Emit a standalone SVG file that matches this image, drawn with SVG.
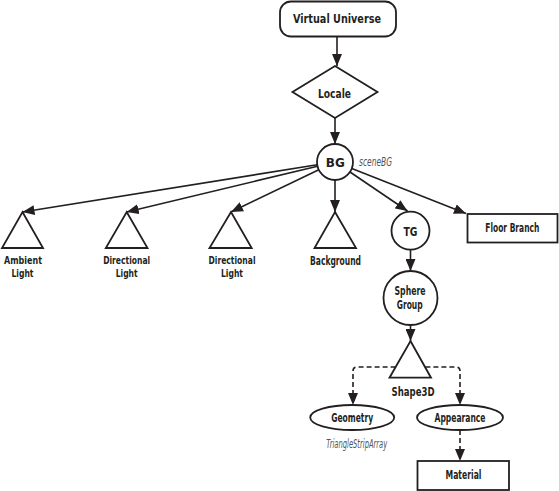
<svg xmlns="http://www.w3.org/2000/svg" width="559" height="491" viewBox="0 0 559 491">
<defs>
<marker id="ah" markerUnits="userSpaceOnUse" markerWidth="12" markerHeight="10" viewBox="0 0 12 10" refX="12" refY="5" orient="auto">
<path d="M0,0 L12,5 L0,10 Z" fill="#231f20"/>
</marker>
</defs>
<style>
.n{fill:#fff;stroke:#231f20;stroke-width:1.8}
.t{font-family:"DejaVu Sans Condensed","Liberation Sans",sans-serif;font-weight:bold;fill:#231f20;text-anchor:middle;font-size:11.5px}
.s{font-size:10.8px}
.i{font-family:"DejaVu Sans Condensed","Liberation Sans",sans-serif;font-style:italic;fill:#555;font-size:12px}
.c{fill:none;stroke:#231f20;stroke-width:1.6;marker-end:url(#ah)}
.d{stroke-dasharray:5 3}
</style>
<rect width="559" height="491" fill="#fff"/>
<g id="connectors">
<line class="c" x1="337" y1="37" x2="337" y2="66"/>
<line class="c" x1="335" y1="118" x2="335" y2="144"/>
<line class="c" x1="317.2" y1="164.8" x2="22.5" y2="212"/>
<line class="c" x1="317.5" y1="166.2" x2="126.7" y2="212"/>
<line class="c" x1="318.8" y1="169.8" x2="231" y2="212"/>
<line class="c" x1="335" y1="180" x2="335" y2="212"/>
<line class="c" x1="350" y1="172" x2="407.5" y2="211"/>
<line class="c" x1="351.8" y1="168.5" x2="466" y2="213.5"/>
<line class="c" x1="410.5" y1="250" x2="410.5" y2="271"/>
<line class="c" x1="410.5" y1="325" x2="410.5" y2="341"/>
<path class="c d" d="M395.6,367 H357 Q353,367 353,371 V405"/>
<path class="c d" d="M425.4,367 H456 Q460,367 460,371 V405"/>
<line class="c d" x1="460" y1="430" x2="460" y2="461"/>
</g>
<g id="virtual-universe">
<rect class="n" x="280" y="1.5" width="116" height="35" rx="11"/>
<text class="t" x="337" y="23" font-size="14" textLength="88" lengthAdjust="spacingAndGlyphs">Virtual Universe</text>
</g>
<g id="locale">
<polygon class="n" points="335,66 377.5,92 335,118 292.5,92"/>
<text class="t" x="334.5" y="97.5" font-size="14.5" textLength="33" lengthAdjust="spacingAndGlyphs">Locale</text>
</g>
<g id="bg">
<circle class="n" cx="335" cy="162" r="18"/>
<text class="t" x="335.3" y="166.5" font-size="14.5" textLength="19" lengthAdjust="spacingAndGlyphs">BG</text>
<text class="i" x="359" y="165.5" textLength="33" lengthAdjust="spacingAndGlyphs">sceneBG</text>
</g>
<g id="ambient-light">
<polygon class="n" points="22.5,212 43,248 2,248"/>
<text class="t s" x="23" y="264.3" textLength="38" lengthAdjust="spacingAndGlyphs">Ambient</text>
<text class="t s" x="22.5" y="277" textLength="22" lengthAdjust="spacingAndGlyphs">Light</text>
</g>
<g id="directional-light-1">
<polygon class="n" points="126.7,212 147.5,248 105.8,248"/>
<text class="t s" x="126.7" y="264.3" textLength="47" lengthAdjust="spacingAndGlyphs">Directional</text>
<text class="t s" x="126.7" y="277" textLength="22" lengthAdjust="spacingAndGlyphs">Light</text>
</g>
<g id="directional-light-2">
<polygon class="n" points="231,212 251.7,248 209.5,248"/>
<text class="t s" x="232" y="264.3" textLength="47" lengthAdjust="spacingAndGlyphs">Directional</text>
<text class="t s" x="232" y="277" textLength="22" lengthAdjust="spacingAndGlyphs">Light</text>
</g>
<g id="background">
<polygon class="n" points="335,212 356,248 314.5,248"/>
<text class="t" x="335.5" y="265" textLength="51" lengthAdjust="spacingAndGlyphs">Background</text>
</g>
<g id="tg">
<circle class="n" cx="410.5" cy="230.7" r="19"/>
<text class="t" x="410.5" y="236.3" font-size="14" textLength="14" lengthAdjust="spacingAndGlyphs">TG</text>
</g>
<g id="floor-branch">
<rect class="n" x="467.5" y="214" width="90" height="28.5"/>
<text class="t" x="512.3" y="232.3" textLength="54" lengthAdjust="spacingAndGlyphs">Floor Branch</text>
</g>
<g id="sphere-group">
<circle class="n" cx="410.5" cy="298" r="27"/>
<text class="t" x="410" y="295" textLength="31" lengthAdjust="spacingAndGlyphs">Sphere</text>
<text class="t" x="409.7" y="308.5" textLength="26" lengthAdjust="spacingAndGlyphs">Group</text>
</g>
<g id="shape3d">
<polygon class="n" points="410.5,341 431,377.7 389.5,377.7"/>
<text class="t" x="413" y="396" textLength="43" lengthAdjust="spacingAndGlyphs">Shape3D</text>
</g>
<g id="geometry">
<ellipse class="n" cx="352.2" cy="417.5" rx="42" ry="12.5"/>
<text class="t" x="352.2" y="421.8" textLength="42" lengthAdjust="spacingAndGlyphs">Geometry</text>
<text class="i" x="356.7" y="448" text-anchor="middle" textLength="61" lengthAdjust="spacingAndGlyphs">TriangleStripArray</text>
</g>
<g id="appearance">
<ellipse class="n" cx="460" cy="417.5" rx="43" ry="12.5"/>
<text class="t" x="460" y="421.8" textLength="51" lengthAdjust="spacingAndGlyphs">Appearance</text>
</g>
<g id="material">
<rect class="n" x="417.5" y="461" width="91.5" height="29"/>
<text class="t" x="463.5" y="478.5" textLength="36" lengthAdjust="spacingAndGlyphs">Material</text>
</g>
</svg>
